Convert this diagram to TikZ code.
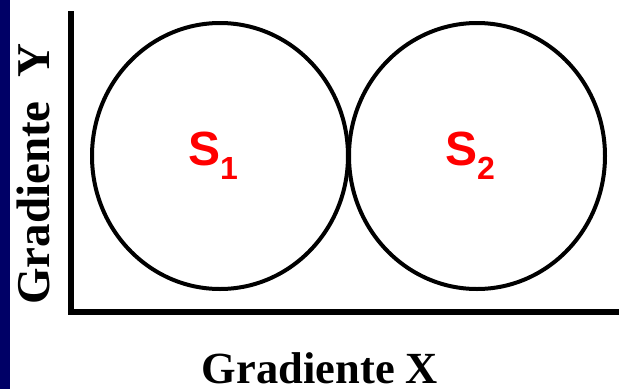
\documentclass[tikz,border=0pt]{standalone}
\usepackage{fontspec}
\setmainfont{Liberation Serif}
\setsansfont{Liberation Sans}
\usepackage{xcolor}
\usepackage{tikz}
\usetikzlibrary{shapes.geometric}
\definecolor{stripblue}{RGB}{0,0,102}
\tikzset{
  zone/.style={draw,ellipse,line width=4pt,minimum width=256pt,minimum height=266pt,inner sep=0pt},
  zonelabel/.style={text=red,font=\sffamily\bfseries\fontsize{48}{50}\selectfont},
  axislabel/.style={font=\bfseries\fontsize{44.5}{50}\selectfont,anchor=base,inner sep=0pt}
}

\begin{document}
\begin{tikzpicture}[x=1pt,y=-1pt]
  \useasboundingbox (0,0) rectangle (619,389);
  \fill[stripblue] (0,0) rectangle (10,389);
  \coordinate (ytop) at (71,11);
  \coordinate (xend) at (619,311.5);
  \draw[line width=6pt] (ytop) |- (xend);
  \foreach \n/\x in {1/220,2/477} {
    \node[zone] (s\n) at (\x,156) {};
    \node[zonelabel,xshift=-7pt] (l\n) at (s\n) {S\raisebox{-0.3em}{\fontsize{32}{34}\selectfont\n}};}
  \node[axislabel,rotate=90,font=\bfseries\fontsize{47}{50}\selectfont] (gy) at (49,174) {Gradiente\hspace{24pt}Y};
  \node[axislabel] (gx) at (320,383) {Gradiente X};
\end{tikzpicture}
\end{document}
